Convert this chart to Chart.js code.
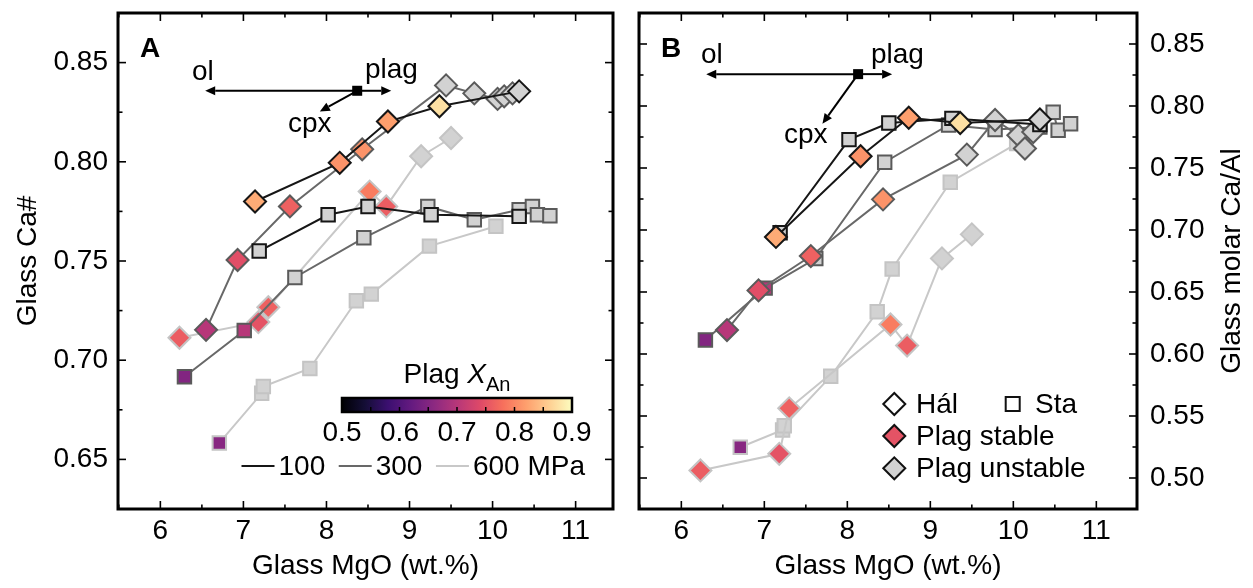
<!DOCTYPE html>
<html>
<head>
<meta charset="utf-8">
<script src="https://cdn.jsdelivr.net/npm/chart.js@4.4.1/dist/chart.umd.min.js"></script>
<style>
  html, body { margin: 0; padding: 0; background: #fff; }
  #wrap { position: relative; width: 1253px; height: 588px; overflow: hidden; }
  .pane { position: absolute; top: 0; height: 588px; }
  #paneA { left: 0; width: 626px; }
  #paneB { left: 626px; width: 627px; }
  canvas { display: block; }
</style>
</head>
<body>
<div id="wrap">
  <div class="pane" id="paneA"><canvas id="chartA" width="626" height="588"></canvas></div>
  <div class="pane" id="paneB"><canvas id="chartB" width="627" height="588"></canvas></div>
</div>
<script>
// ---------- experimental glass compositions ----------
// Háleyjabunga (Hál) and Stapafell (Sta) runs at 100, 300 and 600 MPa.
// MgO in wt.%, Ca# and molar Ca/Al of the glass, X_An of coexisting plagioclase (null = plag unstable)

const halMgO100   = [7.14, 8.16, 8.74, 9.36, 10.32];
const halCaNum100 = [0.780, 0.7995, 0.8203, 0.828, 0.8355];
const halCaAl100  = [0.6944, 0.7595, 0.7905, 0.7863, 0.7891];
const halXAn100   = [0.83, 0.81, 0.82, 0.875, null];

const staMgO100   = [7.19, 8.02, 8.50, 9.26, 10.32];
const staCaNum100 = [0.755, 0.7733, 0.7775, 0.7733, 0.7725];
const staCaAl100  = [0.6978, 0.7729, 0.7863, 0.790, 0.785];
const staXAn100   = [null, null, null, null, null];

const halMgO300   = [6.55, 6.93, 7.56, 8.43, 9.44, 9.78, 10.06, 10.14, 10.24];
const halCaNum300 = [0.7153, 0.7505, 0.7775, 0.8063, 0.8385, 0.8345, 0.8317, 0.833, 0.8345];
const halCaAl300  = [0.6193, 0.6513, 0.679, 0.7247, 0.7608, 0.7887, 0.7764, 0.7657, 0.779];
const halXAn300   = [0.70, 0.745, 0.765, 0.81, null, null, null, null, null];

const staMgO300   = [6.29, 7.01, 7.62, 8.45, 9.22, 9.78, 10.32, 10.48, 10.54, 10.69];
const staCaNum300 = [0.6917, 0.715, 0.7417, 0.7617, 0.7775, 0.7708, 0.7758, 0.7775, 0.7733, 0.7728];
const staCaAl300  = [0.6113, 0.6531, 0.677, 0.7547, 0.7847, 0.781, 0.783, 0.795, 0.7804, 0.7857];
const staXAn300   = [0.65, 0.70, null, null, null, null, null, null, null, null];

const halMgO600   = [6.23, 7.18, 7.30, 8.52, 8.72, 9.14, 9.50];
const halCaNum600 = [0.7113, 0.7192, 0.7267, 0.785, 0.7775, 0.8028, 0.812];
const halCaAl600  = [0.5061, 0.5195, 0.5562, 0.6238, 0.6068, 0.6771, 0.6965];
const halXAn600   = [0.76, 0.75, 0.765, 0.79, 0.76, null, null];

const staMgO600   = [6.71, 7.22, 7.24, 7.80, 8.36, 8.54, 9.24, 10.04];
const staCaNum600 = [0.6583, 0.6833, 0.6867, 0.6958, 0.730, 0.7333, 0.7575, 0.7675];
const staCaAl600  = [0.5248, 0.5387, 0.5421, 0.582, 0.634, 0.6685, 0.7385, 0.7697];
const staXAn600   = [0.655, null, null, null, null, null, null, null];

// axis ticks
const mgoTicks   = [6, 7, 8, 9, 10, 11];
const caNumTicks = [0.65, 0.70, 0.75, 0.80, 0.85];
const caAlTicks  = [0.50, 0.55, 0.60, 0.65, 0.70, 0.75, 0.80, 0.85];
const xanTicks   = [0.5, 0.6, 0.7, 0.8, 0.9];
const pressureLabels = ['100', '300', '600 MPa'];
const symbolLabels = ['Hál', 'Sta', 'Plag stable', 'Plag unstable'];

// crystallisation vectors (MgO, Ca#) / (MgO, Ca/Al) from a common origin
const vecOriginA = [8.37, 0.8358];
const vecOriginB = [8.13, 0.8257];
const olShift = -1.83;
const plagShift = 0.41;
const cpxShiftA = [-0.45, -0.0105];
const cpxShiftB = [-0.43, -0.040];

// ---------- styling ----------
const FONT = '"Liberation Sans", Arial, Helvetica, sans-serif';
const SIZE = 28;
const UNSTABLE = '#d2d2d2';
const pressureStyle = {
  100: { line: '#161616', edge: '#161616' },
  300: { line: '#686868', edge: '#5a5a5a' },
  600: { line: '#c8c8c8', edge: '#c4c4c4' }
};
const magmaStops = ['#000004', '#140e36', '#3b0f70', '#641a80', '#8c2981', '#b73779',
                    '#de4968', '#f7705c', '#fe9f6d', '#fecf92', '#fcfdbf'];

function hexToRgb(h) { const n = parseInt(h.slice(1), 16); return [(n >> 16) & 255, (n >> 8) & 255, n & 255]; }
function magma(t) {
  t = Math.max(0, Math.min(1, t));
  const f = t * (magmaStops.length - 1);
  const i = Math.min(Math.floor(f), magmaStops.length - 2);
  const u = f - i;
  const a = hexToRgb(magmaStops[i]), b = hexToRgb(magmaStops[i + 1]);
  const c = a.map((v, k) => Math.round(v + (b[k] - v) * u));
  return `rgb(${c[0]},${c[1]},${c[2]})`;
}
const xanMin = xanTicks[0], xanMax = xanTicks[xanTicks.length - 1];
const xanColor = v => magma((v - xanMin) / (xanMax - xanMin));

const series = [
  { shape: 'hal', p: 100, mgo: halMgO100, caNum: halCaNum100, caAl: halCaAl100, xan: halXAn100 },
  { shape: 'sta', p: 100, mgo: staMgO100, caNum: staCaNum100, caAl: staCaAl100, xan: staXAn100 },
  { shape: 'hal', p: 300, mgo: halMgO300, caNum: halCaNum300, caAl: halCaAl300, xan: halXAn300 },
  { shape: 'sta', p: 300, mgo: staMgO300, caNum: staCaNum300, caAl: staCaAl300, xan: staXAn300 },
  { shape: 'hal', p: 600, mgo: halMgO600, caNum: halCaNum600, caAl: halCaAl600, xan: halXAn600 },
  { shape: 'sta', p: 600, mgo: staMgO600, caNum: staCaNum600, caAl: staCaAl600, xan: staXAn600 }
];

function buildDatasets(key) {
  return series.map(s => ({
    label: (s.shape === 'hal' ? 'Hál ' : 'Sta ') + s.p,
    data: s.mgo.map((x, i) => ({ x, y: s[key][i] })),
    showLine: true,
    borderColor: pressureStyle[s.p].line,
    borderWidth: 2,
    pointStyle: s.shape === 'hal' ? 'rectRot' : 'rect',
    pointRadius: s.shape === 'hal' ? 11 : 9.5,
    pointBackgroundColor: s.xan.map(v => v == null ? UNSTABLE : xanColor(v)),
    pointBorderColor: pressureStyle[s.p].edge,
    pointBorderWidth: 2
  }));
}

function tickSet(major, scale) {
  const step = major[1] - major[0];
  const out = major.map(v => [v, 8]);
  for (let k = -1; k < major.length; k++) {
    const v = Math.round((major[0] + (k + 0.5) * step) * 1e6) / 1e6;
    if (v > scale.min + 1e-6 && v < scale.max - 1e-6) out.push([v, 4.5]);
  }
  return out;
}

function arrow(ctx, x0, y0, x1, y1) {
  const a = Math.atan2(y1 - y0, x1 - x0), len = 10, half = 4.5;
  const bx = x1 - len * Math.cos(a), by = y1 - len * Math.sin(a);
  ctx.beginPath(); ctx.moveTo(x0, y0); ctx.lineTo(bx, by); ctx.stroke();
  ctx.beginPath();
  ctx.moveTo(x1, y1);
  ctx.lineTo(bx + half * Math.sin(a), by - half * Math.cos(a));
  ctx.lineTo(bx - half * Math.sin(a), by + half * Math.cos(a));
  ctx.closePath(); ctx.fill();
}

function diamond(ctx, x, y, r, fill) {
  ctx.beginPath();
  ctx.moveTo(x - r, y); ctx.lineTo(x, y - r); ctx.lineTo(x + r, y); ctx.lineTo(x, y + r);
  ctx.closePath();
  ctx.fillStyle = fill; ctx.fill();
  ctx.lineWidth = 2; ctx.strokeStyle = '#111'; ctx.stroke();
}

const decorPlugin = {
  id: 'decor',
  afterDatasetsDraw(chart, args, opts) {
    const isA = opts.panel === 'A';
    const { ctx, chartArea: ca } = chart;
    const xs = chart.scales.x, ys = chart.scales.y;
    const seg = (x0, y0, x1, y1) => { ctx.beginPath(); ctx.moveTo(x0, y0); ctx.lineTo(x1, y1); ctx.stroke(); };
    ctx.save();
    ctx.strokeStyle = '#000';
    ctx.fillStyle = '#000';

    // inward tick marks on all four sides
    ctx.lineWidth = 1.6;
    for (const [v, len] of tickSet(mgoTicks, xs)) {
      const p = xs.getPixelForValue(v);
      seg(p, ca.bottom, p, ca.bottom - len); seg(p, ca.top, p, ca.top + len);
    }
    for (const [v, len] of tickSet(isA ? caNumTicks : caAlTicks, ys)) {
      const p = ys.getPixelForValue(v);
      seg(ca.left, p, ca.left + len, p); seg(ca.right, p, ca.right - len, p);
    }
    // frame
    ctx.lineWidth = 3;
    ctx.strokeRect(ca.left, ca.top, ca.right - ca.left, ca.bottom - ca.top);

    // panel letter
    ctx.font = `bold ${SIZE}px ${FONT}`;
    ctx.textAlign = 'left'; ctx.textBaseline = 'alphabetic';
    ctx.fillText(opts.panel, ca.left + 22, ca.top + 44);

    // mineral vectors
    const o = isA ? vecOriginA : vecOriginB;
    const cpx = isA ? cpxShiftA : cpxShiftB;
    const ox = xs.getPixelForValue(o[0]), oy = ys.getPixelForValue(o[1]);
    ctx.lineWidth = 2;
    arrow(ctx, ox, oy, xs.getPixelForValue(o[0] + olShift), oy);
    arrow(ctx, ox, oy, xs.getPixelForValue(o[0] + plagShift), oy);
    arrow(ctx, ox, oy, xs.getPixelForValue(o[0] + cpx[0]), ys.getPixelForValue(o[1] + cpx[1]));
    ctx.fillRect(ox - 5, oy - 5, 10, 10);
    ctx.font = `${SIZE}px ${FONT}`;
    const lab = isA ? { ol: [74, 67], plag: [247, 64.5], cpx: [170, 118.5] }
                    : { ol: [62, 50], plag: [232, 50], cpx: [145, 130] };
    for (const k of ['ol', 'plag', 'cpx']) ctx.fillText(k, ca.left + lab[k][0], ca.top + lab[k][1]);

    if (isA) {
      // plagioclase X_An colour bar
      const bx0 = ca.left + 224, bx1 = ca.right - 41, by0 = ca.top + 385, by1 = ca.bottom - 97;
      const g = ctx.createLinearGradient(bx0, 0, bx1, 0);
      magmaStops.forEach((c, i) => g.addColorStop(i / (magmaStops.length - 1), c));
      ctx.fillStyle = g;
      ctx.fillRect(bx0, by0, bx1 - bx0, by1 - by0);
      const xanPx = v => bx0 + (v - xanMin) / (xanMax - xanMin) * (bx1 - bx0);
      ctx.lineWidth = 1.5;
      for (let k = 1; k < (xanTicks.length - 1) * 2; k++) {
        const v = xanMin + k * 0.05;
        seg(xanPx(v), by1, xanPx(v), by1 - 5);
      }
      ctx.lineWidth = 2.5;
      ctx.strokeRect(bx0, by0, bx1 - bx0, by1 - by0);
      ctx.fillStyle = '#000';
      ctx.textAlign = 'center'; ctx.textBaseline = 'middle';
      ctx.font = `${SIZE}px ${FONT}`;
      xanTicks.forEach(v => ctx.fillText(v.toFixed(1), xanPx(v), by1 + 21));

      // colour bar title: Plag X_An
      ctx.textAlign = 'left'; ctx.textBaseline = 'alphabetic';
      const fN = `${SIZE}px ${FONT}`, fI = `italic ${SIZE}px ${FONT}`, fS = `20px ${FONT}`;
      ctx.font = fN; const w1 = ctx.measureText('Plag ').width;
      ctx.font = fI; const w2 = ctx.measureText('X').width;
      ctx.font = fS; const w3 = ctx.measureText('An').width;
      let tx = (bx0 + bx1) / 2 - (w1 + w2 + w3) / 2;
      const tb = by0 - 15;
      ctx.font = fN; ctx.fillText('Plag ', tx, tb); tx += w1;
      ctx.font = fI; ctx.fillText('X', tx, tb); tx += w2;
      ctx.font = fS; ctx.fillText('An', tx, tb + 8);

      // pressure line legend
      ctx.font = fN; ctx.textBaseline = 'middle';
      const ly = ca.bottom - 43;
      let lx = ca.left + 123.5;
      [100, 300, 600].forEach((p, i) => {
        ctx.strokeStyle = pressureStyle[p].line; ctx.lineWidth = 2;
        seg(lx, ly, lx + 33, ly);
        lx += 37;
        ctx.fillStyle = '#000';
        ctx.fillText(pressureLabels[i], lx, ly + 1);
        lx += ctx.measureText(pressureLabels[i]).width + 13.5;
      });
    } else {
      // symbol legend
      ctx.font = `${SIZE}px ${FONT}`;
      ctx.textAlign = 'left'; ctx.textBaseline = 'middle';
      const rows = [ca.bottom - 105, ca.bottom - 73, ca.bottom - 40.7];
      const dx = ca.left + 255.3, tx = ca.left + 277;
      diamond(ctx, dx, rows[0], 11, '#fff');
      ctx.fillStyle = '#000'; ctx.fillText(symbolLabels[0], tx, rows[0] + 1);
      const sx = ca.left + 373.7;
      ctx.fillStyle = '#fff'; ctx.fillRect(sx - 7, rows[0] - 7, 14, 14);
      ctx.lineWidth = 2; ctx.strokeStyle = '#111'; ctx.strokeRect(sx - 7, rows[0] - 7, 14, 14);
      ctx.fillStyle = '#000'; ctx.fillText(symbolLabels[1], ca.left + 396, rows[0] + 1);
      diamond(ctx, dx, rows[1], 11, xanColor(0.75));
      ctx.fillStyle = '#000'; ctx.fillText(symbolLabels[2], tx, rows[1] + 1);
      diamond(ctx, dx, rows[2], 11, UNSTABLE);
      ctx.fillStyle = '#000'; ctx.fillText(symbolLabels[3], tx, rows[2] + 1);

      // right-hand axis title
      ctx.save();
      ctx.translate(ca.right + 95, (ca.top + ca.bottom) / 2);
      ctx.rotate(-Math.PI / 2);
      ctx.textAlign = 'center'; ctx.textBaseline = 'middle';
      ctx.fillText('Glass molar Ca/Al', 0, 0);
      ctx.restore();
    }
    ctx.restore();
  }
};

Chart.defaults.font.family = FONT;
Chart.defaults.color = '#000';

function makeChart(id, panel) {
  const isA = panel === 'A';
  const font = { family: FONT, size: SIZE };
  const yTicks = isA ? caNumTicks : caAlTicks;
  return new Chart(document.getElementById(id), {
    type: 'scatter',
    data: { datasets: buildDatasets(isA ? 'caNum' : 'caAl') },
    options: {
      responsive: false,
      animation: false,
      events: [],
      layout: { padding: isA ? { left: 0, right: 13, top: 8, bottom: 0 } : { left: 12, right: 0, top: 8, bottom: 0 } },
      plugins: { legend: { display: false }, tooltip: { enabled: false }, decor: { panel } },
      scales: {
        x: {
          type: 'linear',
          min: 5.49, max: isA ? 11.45 : 11.49,
          grid: { display: false, drawTicks: false },
          border: { display: false },
          afterBuildTicks: s => { s.ticks = mgoTicks.map(v => ({ value: v })); },
          afterFit: s => { s.height = 79; s.paddingLeft = 0; s.paddingRight = 0; },
          ticks: { font, color: '#000', padding: 5, maxRotation: 0, autoSkip: false, callback: v => String(v) },
          title: { display: true, text: 'Glass MgO (wt.%)', font, color: '#000', padding: { top: 0, bottom: 5 } }
        },
        y: {
          type: 'linear',
          position: isA ? 'left' : 'right',
          min: isA ? 0.625 : 0.475, max: 0.875,
          grid: { display: false, drawTicks: false },
          border: { display: false },
          afterBuildTicks: s => { s.ticks = yTicks.map(v => ({ value: v })); },
          afterFit: s => { s.width = isA ? 118 : 116; s.paddingTop = 0; s.paddingBottom = 0; },
          ticks: { font, color: '#000', padding: isA ? 10 : 13, autoSkip: false, callback: v => v.toFixed(2) },
          title: { display: isA, text: 'Glass Ca#', font, color: '#000', padding: { top: 11.5, bottom: 0 } }
        }
      }
    },
    plugins: [decorPlugin]
  });
}

makeChart('chartA', 'A');
makeChart('chartB', 'B');
</script>
</body>
</html>
